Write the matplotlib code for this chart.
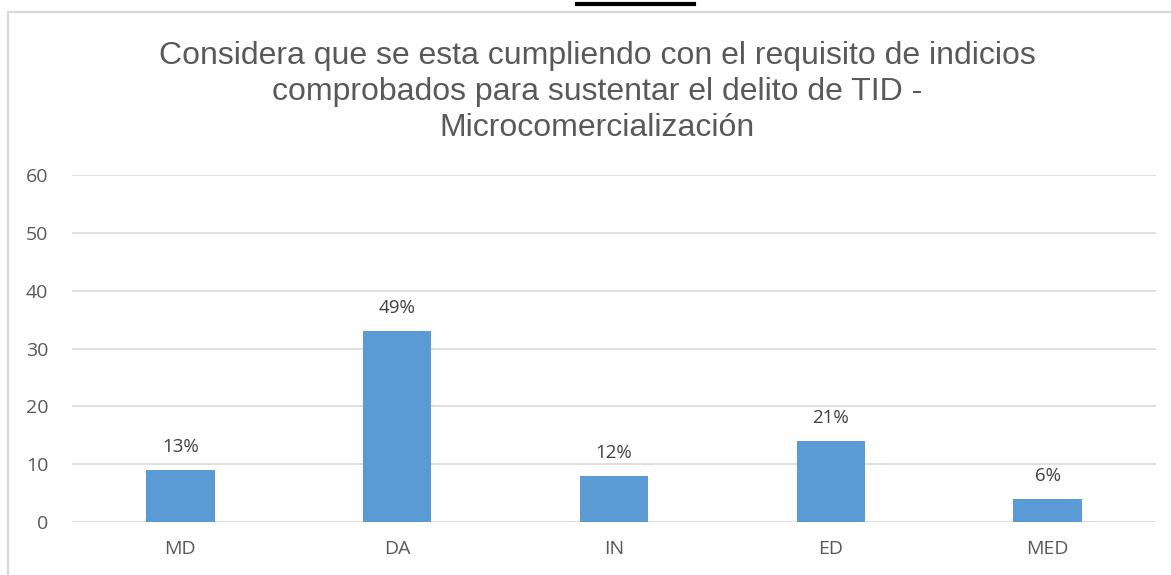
import matplotlib.pyplot as plt
from matplotlib.patches import Rectangle

categories = ['MD', 'DA', 'IN', 'ED', 'MED']
values = [9, 33, 8, 14, 4]
labels = ['13%', '49%', '12%', '21%', '6%']
yticks = [0, 10, 20, 30, 40, 50, 60]

title = ('Considera que se esta cumpliendo con el requisito de indicios\n'
         'comprobados para sustentar el delito de TID -\n'
         'Microcomercialización')

fig = plt.figure(figsize=(11.71, 5.75), dpi=100)

# chart frame (only left and top edges visible in the crop)
fig.patches.append(Rectangle((8 / 1171, -0.1), 1.2, 1.1 - 12 / 575,
                             transform=fig.transFigure, fill=False,
                             edgecolor='#d9d9d9', linewidth=1.5))
# black strip at the top
fig.add_artist(plt.Line2D([577 / 1171, 694 / 1171], [1 - 3.5 / 575, 1 - 3.5 / 575],
                          transform=fig.transFigure, color='black', linewidth=3))

ax = fig.add_axes([72 / 1171, 53 / 575, 1084 / 1171, 347 / 575])
x = range(len(categories))
ax.bar(x, values, width=0.315, color='#5b9bd5', zorder=3)
ax.set_xlim(-0.5, len(categories) - 0.5)
ax.set_ylim(0, 60)
ax.set_yticks(yticks)
ax.set_xticks(list(x))
ax.set_xticklabels(categories)
ax.grid(axis='y', color='#d9d9d9', linewidth=1.2, zorder=0)
for s in ax.spines.values():
    s.set_visible(False)
ax.tick_params(length=0, labelsize=14, labelcolor='#595959', pad=13)
ax.tick_params(axis='y', pad=17)
for lab in ax.get_xticklabels() + ax.get_yticklabels():
    lab.set_family('Open Sans')

for i, (v, t) in enumerate(zip(values, labels)):
    ax.annotate(t, (i, v), xytext=(0, 10), textcoords='offset points',
                ha='center', va='bottom', fontsize=13.5, color='#404040',
                family='Open Sans')

fig.text(597 / 1171, 1 - 92 / 575, title, ha='center', va='center',
         fontsize=23, color='#595959', family='Liberation Sans',
         linespacing=1.27)

fig.savefig('out.png', dpi=100)
